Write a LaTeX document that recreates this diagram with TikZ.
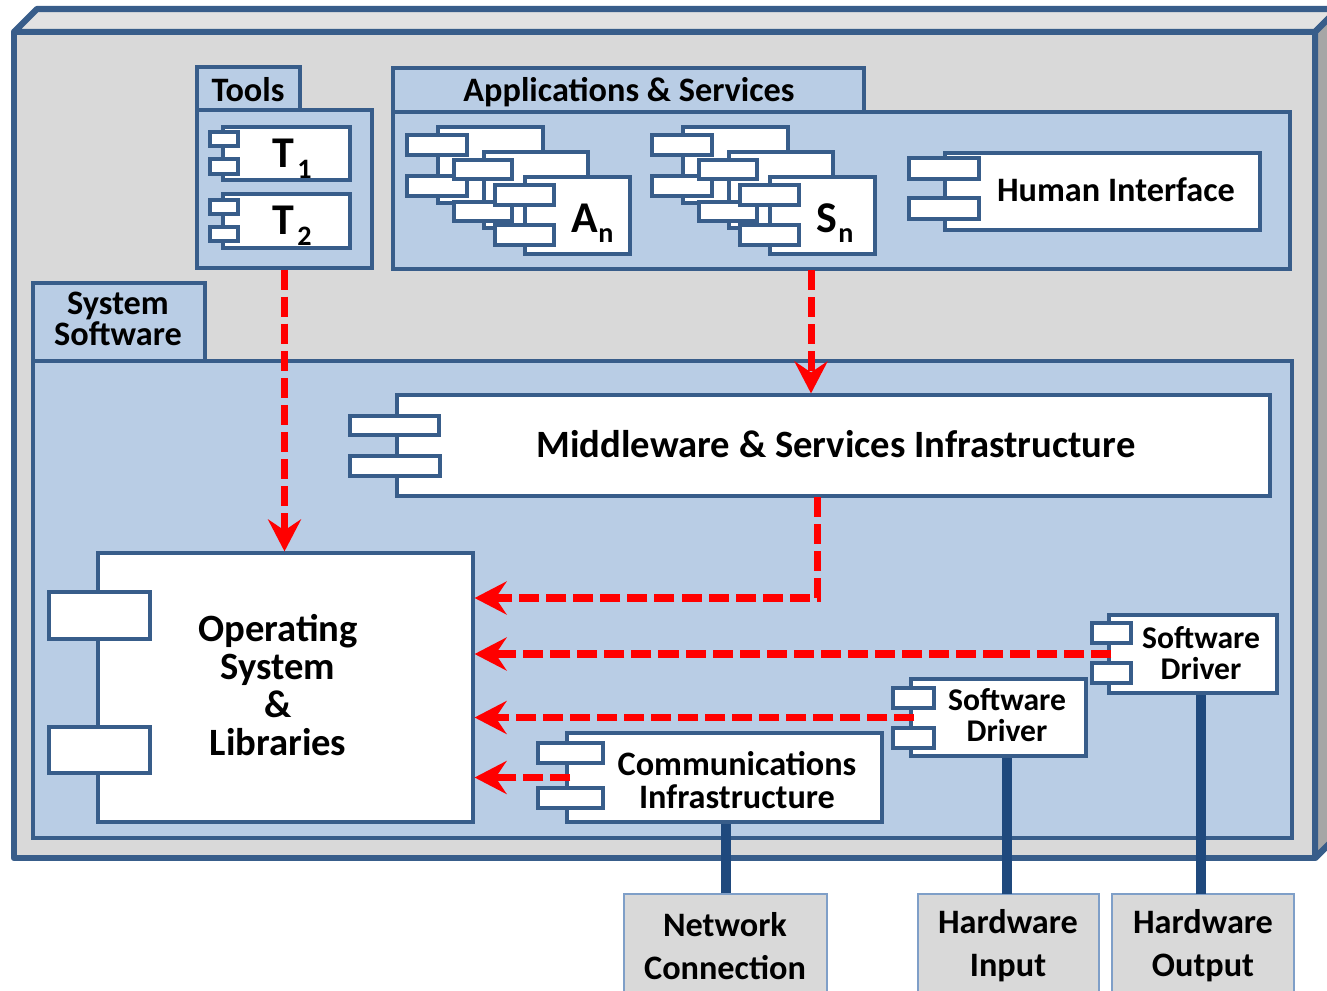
\documentclass[tikz,border=0pt]{standalone}
\usepackage{fontspec}
\setmainfont{Carlito}
\usetikzlibrary{arrows.meta,fit}
\definecolor{bdr}{HTML}{385D8A}
\definecolor{pkg}{HTML}{B9CDE5}
\definecolor{gface}{HTML}{D9D9D9}
\definecolor{gtop}{HTML}{E2E2E2}
\definecolor{gside}{HTML}{A6A6A6}
\definecolor{wire}{HTML}{1F497D}
\definecolor{hwb}{HTML}{7F9FC8}
\newcommand\mkport[4]{\draw[port] (#1,#2) rectangle (#3,#4);}
\begin{document}
\begin{tikzpicture}[x=0.02cm,y=-0.02cm,
  comp/.style={draw=bdr, line width=1.8pt, fill=white, inner sep=0pt},
  port/.style={draw=bdr, line width=1.8pt, fill=white},
  pkgbox/.style={draw=bdr, line width=1.8pt, fill=pkg, inner sep=0pt},
  frame/.style={draw=bdr, line width=3.6pt, line join=round},
  dep/.style={draw=red, line width=4pt, dash pattern=on 11.4pt off 4pt,
    -{Stealth[length=0.64cm,width=0.66cm,inset=0.22cm]}},
  wirel/.style={draw=wire, line width=5.7pt},
  hw/.style={draw=hwb, line width=0.8pt, fill=gface, inner sep=0pt},
  lbl/.style={font=\bfseries\fontsize{19.5}{19}\selectfont, align=center, inner sep=0pt},
  drvlbl/.style={font=\bfseries\fontsize{18}{17.5}\selectfont, align=center, inner sep=0pt},
  biglbl/.style={font=\bfseries\fontsize{22}{21.6}\selectfont, align=center, inner sep=0pt},
  hwlbl/.style={font=\bfseries\fontsize{19.5}{24.5}\selectfont, align=center, inner sep=0pt},
  sym/.style={font=\bfseries\fontsize{25}{25}\selectfont, inner sep=0pt, anchor=base west},
  sub/.style={font=\bfseries\fontsize{16}{16}\selectfont, inner sep=0pt, anchor=base west}
]
\useasboundingbox (0,0) rectangle (1327,990);
\fill[white] (0,0) rectangle (1327,990);
\clip (0,0) rectangle (1327,990);

% 3D frame
\draw[frame, fill=gtop] (14,32) -- (37,9) -- (1338,9) -- (1315,32) -- cycle;
\draw[frame, fill=gside] (1315,32) -- (1338,9) -- (1338,835) -- (1315,858) -- cycle;
\draw[frame, fill=gface] (14,32) rectangle (1315,858);

% Tools package
\node[pkgbox, fit={(197,67)(300,110)}] (toolstab) {};
\node[pkgbox, fit={(197,110)(372,268)}] (tools) {};
\node[lbl] (toolslbl) at (248,90) {Tools};
\node[comp, fit={(223,127)(350,180)}] (t1) {};
\mkport{210}{132}{238}{146}\mkport{210}{159}{238}{174}
\node[comp, fit={(223,194)(350,248)}] (t2) {};
\mkport{210}{200}{238}{214}\mkport{210}{227}{238}{241}
\node[sym] (t1s) at (272,167) {T};
\node[sub] (t1n) at (297,178) {1};
\node[sym] (t2s) at (272,234) {T};
\node[sub] (t2n) at (297,245) {2};

% Applications & Services package
\node[pkgbox, fit={(393,68)(864,112)}] (appstab) {};
\node[pkgbox, fit={(393,112)(1290,269)}] (apps) {};
\node[lbl] (appslbl) at (629,92) {Applications \& Services};
% A_n stack
\node[comp, fit={(438,127)(543,203)}] (a1) {};
\mkport{407}{135}{467}{155}\mkport{407}{176}{467}{196}
\node[comp, fit={(484,152)(588,228)}] (a2) {};
\mkport{454}{160}{512}{179}\mkport{454}{202}{512}{221}
\node[comp, fit={(525,177)(630,254)}] (an) {};
\mkport{495}{185}{554}{205}\mkport{495}{225}{554}{245}
\node[sym] (ans) at (571,232) {A};
\node[sub] (ann) at (598,242) {n};
% S_n stack
\node[comp, fit={(683,127)(788,203)}] (s1) {};
\mkport{652}{135}{712}{155}\mkport{652}{176}{712}{196}
\node[comp, fit={(729,152)(833,228)}] (s2) {};
\mkport{699}{160}{757}{179}\mkport{699}{202}{757}{221}
\node[comp, fit={(770,177)(875,254)}] (sn) {};
\mkport{740}{185}{799}{205}\mkport{740}{225}{799}{245}
\node[sym] (sns) at (816,232) {S};
\node[sub] (snn) at (838,242) {n};
% Human interface
\node[comp, fit={(945,153)(1260,230)}] (hi) {};
\mkport{909}{158}{979}{179}\mkport{909}{198}{979}{219}
\node[lbl] (hilbl) at (1116,190) {Human Interface};

% System Software package
\node[pkgbox, fit={(33,283)(205,361)}] (systab) {};
\node[pkgbox, fit={(33,361)(1292,838)}] (sys) {};
\node[lbl, font=\bfseries\fontsize{19.5}{16}\selectfont] (syslbl) at (118,319) {System\\Software};

% hardware boxes
\node[hw, fit={(624,894)(827,1000)}] (net) {};
\node[hw, fit={(918,894)(1099,1000)}] (hwin) {};
\node[hw, fit={(1112,894)(1294,1000)}] (hwout) {};
\node[hwlbl] (netlbl) at (725,946) {Network\\Connection};
\node[hwlbl] (hwinlbl) at (1008,946) {Hardware\\Input};
\node[hwlbl] (hwoutlbl) at (1203,946) {Hardware\\Output};

% Middleware
\node[comp, fit={(397,395)(1270,496)}] (mw) {};
\mkport{350}{416}{439}{435}\mkport{350}{456}{440}{476}
\node[biglbl] (mwlbl) at (836,444) {Middleware \& Services Infrastructure};
% OS
\node[comp, fit={(98,553)(473,822)}] (os) {};
\mkport{49}{592}{150}{639}\mkport{49}{727}{150}{773}
\node[biglbl] (oslbl) at (278,685) {Operating\\System\\\&\\Libraries};
% wires
\coordinate (w1) at (725,822);
\draw[wirel] (net.north) -- (net.north |- w1);
\coordinate (w2) at (1007,756);
\draw[wirel] (1007,894) -- (w2);
\coordinate (w3) at (1201,693);
\draw[wirel] (1201,894) -- (w3);
% comms and drivers
\node[comp, fit={(567,733)(882,822)}] (comm) {};
\mkport{538}{743}{603}{763}\mkport{538}{788}{603}{808}
\node[lbl] (commlbl) at (737,780) {Communications\\Infrastructure};
\node[comp, fit={(911,679)(1086,756)}] (drv1) {};
\mkport{893}{688}{934}{708}\mkport{893}{728}{934}{748}
\node[drvlbl] (drv1lbl) at (1007,715) {Software\\Driver};
\node[comp, fit={(1109,615)(1277,693)}] (drv2) {};
\mkport{1092}{623}{1131}{643}\mkport{1092}{663}{1131}{683}
\node[drvlbl] (drv2lbl) at (1201,653) {Software\\Driver};

% dependencies
\draw[dep] (tools.south) -- (tools.south |- os.north);
\coordinate (snx) at (811,270);
\draw[dep] (snx) -- (snx |- mw.north);
\coordinate (mwx) at (817,497);
\coordinate (mwy) at (817,598);
\draw[dep] (mwx) -- (mwy) -- (mwy -| os.east);
\draw[dep] ([xshift=0.08cm]drv2.west) -- (drv2.west -| os.east);
\draw[dep] ([xshift=0.1cm]drv1.west) -- (drv1.west -| os.east);
\draw[dep] ([xshift=0.1cm]comm.west) -- (comm.west -| os.east);
\end{tikzpicture}
\end{document}
